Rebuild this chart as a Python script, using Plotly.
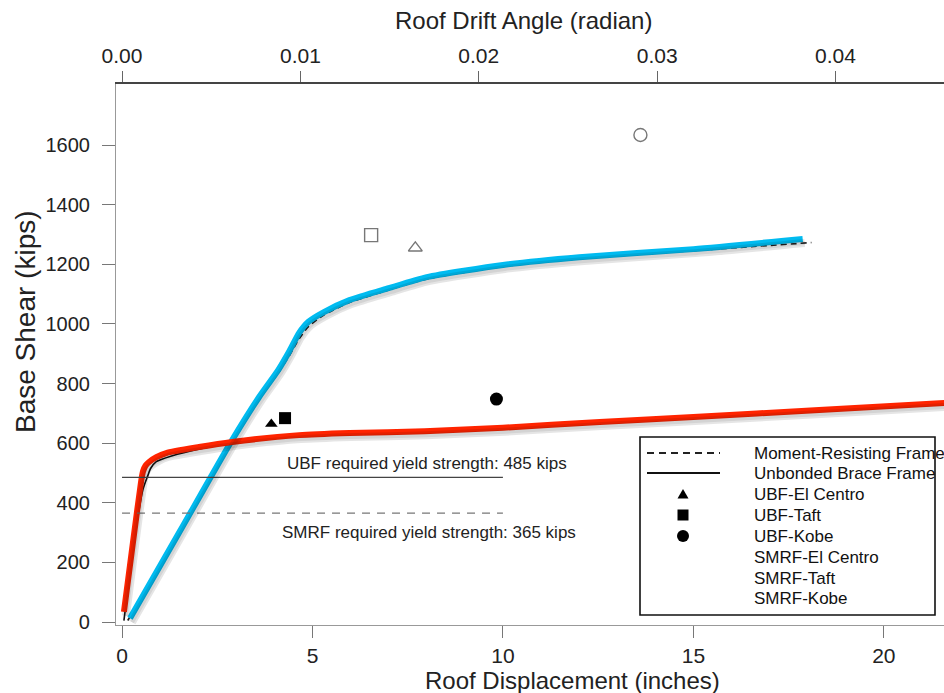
import plotly.graph_objects as go

# ---------------- data ----------------
# Thick highlighted pushover curves
smrf_disp = [0.21, 1.5, 2.86, 3.6, 4.1, 4.4, 4.65, 4.9, 5.3, 5.97, 7.0, 8.0, 10.0, 12.0, 15.0, 17.87]
smrf_shear = [13, 300, 604, 755, 845, 910, 970, 1008, 1040, 1080, 1120, 1157, 1198, 1224, 1251, 1285]

ubf_disp = [0.05, 0.3, 0.5, 0.55, 0.62, 0.71, 0.9, 1.16, 2.02, 2.89, 4.65, 5.97, 7.94, 10.0, 12.54, 15.0, 18.3, 21.6]
ubf_shear = [34, 280, 470, 505, 525, 537, 553, 567, 587, 604, 627, 634, 640, 652, 671, 688, 711, 735]

# Thin black reference curves (legend: Moment-Resisting Frame / Unbonded Brace Frame)
mrf_ref_disp = [0.15, 1.0, 2.86, 3.6, 4.1, 4.4, 4.65, 4.9, 5.3, 5.97, 7.0, 8.0, 10.0, 12.0, 15.0, 18.1]
mrf_ref_shear = [5, 190, 598, 748, 835, 895, 950, 992, 1030, 1072, 1114, 1151, 1193, 1219, 1246, 1273]

ubf_ref_disp = [0.05, 0.3, 0.55, 0.68, 0.75, 0.9, 1.3, 2.0, 2.89, 4.65, 5.97, 10.0, 12.54, 15.0, 18.3, 21.6]
ubf_ref_shear = [5, 255, 445, 492, 515, 538, 557, 580, 600, 624, 630, 650, 667, 684, 707, 730]

# Earthquake peak responses
quake_names = ["El Centro", "Taft", "Kobe"]
ubf_peak_disp = [3.92, 4.28, 9.83]
ubf_peak_shear = [664, 684, 748]
smrf_peak_disp = [7.70, 6.54, 13.61]
smrf_peak_shear = [1255, 1298, 1634]

# Required yield strengths
ubf_required = 485
smrf_required = 365
required_disp_span = [0, 10]

# Axis scales
x_ticks = [0, 5, 10, 15, 20]
y_ticks = [0, 200, 400, 600, 800, 1000, 1200, 1400, 1600]
drift_ticks = [0.00, 0.01, 0.02, 0.03, 0.04]
roof_height_in = 468.3
x_range = [-0.158, 21.58]
y_range = [-10, 1805]

# ---------------- figure ----------------
W, H = 944, 693
ML, MR, MT, MB = 116, 0, 84, 68
plot_w = W - ML - MR
plot_h = H - MT - MB
px_per_in = plot_w / (x_range[1] - x_range[0])
px_per_kip = plot_h / (y_range[1] - y_range[0])
sdx, sdy = 2.0, 4.0  # shadow offset in pixels
x_range_sh = [x_range[0] - sdx / px_per_in, x_range[1] - sdx / px_per_in]
y_range_sh = [y_range[0] + sdy / px_per_kip, y_range[1] + sdy / px_per_kip]

RED = "#FF2400"
BLUE = "#00BBF0"
SANS = "Liberation Sans, Arial, sans-serif"

fig = go.Figure()

# soft shadows for the highlighted curves
for xs, ys in [(smrf_disp, smrf_shear), (ubf_disp, ubf_shear)]:
    fig.add_trace(go.Scatter(x=xs, y=ys, xaxis="x3", yaxis="y3", mode="lines",
                             line=dict(color="rgba(0,0,0,0.10)", width=8, shape="spline", smoothing=0.6),
                             hoverinfo="skip", showlegend=False))
    fig.add_trace(go.Scatter(x=xs, y=ys, xaxis="x3", yaxis="y3", mode="lines",
                             line=dict(color="rgba(0,0,0,0.08)", width=4, shape="spline", smoothing=0.6),
                             hoverinfo="skip", showlegend=False))

# reference black curves
fig.add_trace(go.Scatter(x=mrf_ref_disp, y=mrf_ref_shear, mode="lines", name="Moment-Resisting Frame",
                         line=dict(color="#222", width=1.6, dash="6px,4px", shape="spline", smoothing=0.6),
                         showlegend=False))
fig.add_trace(go.Scatter(x=ubf_ref_disp, y=ubf_ref_shear, mode="lines", name="Unbonded Brace Frame",
                         line=dict(color="#111", width=1.6, shape="spline", smoothing=0.6),
                         showlegend=False))

# highlighted curves
fig.add_trace(go.Scatter(x=smrf_disp, y=smrf_shear, mode="lines", name="SMRF pushover",
                         line=dict(color=BLUE, width=6, shape="spline", smoothing=0.6), showlegend=False))
fig.add_trace(go.Scatter(x=ubf_disp, y=ubf_shear, mode="lines", name="UBF pushover",
                         line=dict(color=RED, width=6, shape="spline", smoothing=0.6), showlegend=False))

# required yield strength lines
fig.add_trace(go.Scatter(x=required_disp_span, y=[ubf_required] * 2, mode="lines",
                         line=dict(color="#444", width=1.3), showlegend=False, hoverinfo="skip"))
fig.add_trace(go.Scatter(x=required_disp_span, y=[smrf_required] * 2, mode="lines",
                         line=dict(color="#777", width=1.3, dash="8px,7px"), showlegend=False, hoverinfo="skip"))

# peak response markers
filled_symbols = ["triangle-up", "square", "circle"]
filled_sizes = [11, 12, 13]
open_symbols = ["triangle-up-open", "square-open", "circle-open"]
open_sizes = [12, 13, 13]
for i, q in enumerate(quake_names):
    fig.add_trace(go.Scatter(x=[ubf_peak_disp[i]], y=[ubf_peak_shear[i]], mode="markers",
                             name="UBF-" + q, showlegend=False,
                             marker=dict(symbol=filled_symbols[i], size=filled_sizes[i], color="black")))
    fig.add_trace(go.Scatter(x=[smrf_peak_disp[i]], y=[smrf_peak_shear[i]], mode="markers",
                             name="SMRF-" + q, showlegend=False,
                             marker=dict(symbol=open_symbols[i], size=open_sizes[i], color="#777",
                                         line=dict(width=1.4, color="#777"))))

# invisible trace on drift axis so it is rendered
fig.add_trace(go.Scatter(x=[d / roof_height_in for d in mrf_ref_disp], y=mrf_ref_shear, xaxis="x2",
                         mode="lines", line=dict(width=0), opacity=0, hoverinfo="skip", showlegend=False))

fig.update_layout(
    width=W, height=H, margin=dict(l=ML, r=MR, t=MT, b=MB),
    paper_bgcolor="white", plot_bgcolor="white", showlegend=False,
    xaxis=dict(range=x_range, tickvals=x_ticks, ticks="outside", ticklen=12, tickcolor="#777",
               showline=True, linecolor="#999", linewidth=1.2, showgrid=False, zeroline=False,
               tickfont=dict(family=SANS, size=21, color="#222"), ticklabelstandoff=0),
    yaxis=dict(range=y_range, tickvals=y_ticks, ticks="outside", ticklen=13, tickcolor="#777",
               showline=True, linecolor="#999", linewidth=1.2, showgrid=False, zeroline=False,
               tickfont=dict(family=SANS, size=20, color="#222"), ticklabelstandoff=8),
    xaxis2=dict(overlaying="x", side="top", range=[x_range[0] / roof_height_in, x_range[1] / roof_height_in],
                tickvals=drift_ticks, tickformat=".2f", ticks="outside", ticklen=11, tickcolor="#666",
                showline=True, linecolor="#444", linewidth=2, showgrid=False, zeroline=False,
                tickfont=dict(family=SANS, size=21, color="#222")),
    xaxis3=dict(overlaying="x", range=x_range_sh, visible=False),
    yaxis3=dict(overlaying="y", range=y_range_sh, visible=False),
)

annotations = [
    dict(text="Roof Drift Angle (radian)", x=(523 - ML) / plot_w, y=(MT + plot_h - 20) / plot_h,
         xref="paper", yref="paper", showarrow=False, xanchor="center", yanchor="middle",
         font=dict(family=SANS, size=24, color="#222")),
    dict(text="Roof Displacement (inches)", x=(572 - ML) / plot_w, y=(MT + plot_h - 680) / plot_h,
         xref="paper", yref="paper", showarrow=False, xanchor="center", yanchor="middle",
         font=dict(family=SANS, size=24, color="#222")),
    dict(text="Base Shear (kips)", x=(25 - ML) / plot_w, y=(MT + plot_h - 322) / plot_h,
         xref="paper", yref="paper", showarrow=False, xanchor="center", yanchor="middle", textangle=-90,
         font=dict(family=SANS, size=28, color="#222")),
    dict(text="UBF required yield strength: %d kips" % ubf_required, x=8.0, y=ubf_required,
         xref="x", yref="y", showarrow=False, xanchor="center", yanchor="middle", yshift=14,
         font=dict(family=SANS, size=17, color="#222")),
    dict(text="SMRF required yield strength: %d kips" % smrf_required, x=8.05, y=smrf_required,
         xref="x", yref="y", showarrow=False, xanchor="center", yanchor="middle", yshift=-19,
         font=dict(family=SANS, size=17, color="#222")),
]

# ---- manual legend ----
def px(xp):
    return (xp - ML) / plot_w

def py(yp):
    return (MT + plot_h - yp) / plot_h

legend_labels = ["Moment-Resisting Frame", "Unbonded Brace Frame"] + \
    ["UBF-" + q for q in quake_names] + ["SMRF-" + q for q in quake_names]
row_y = [453, 473, 494, 515, 536, 557, 578, 598]
for lab, yy in zip(legend_labels, row_y):
    annotations.append(dict(text=lab, x=px(752), y=py(yy), xref="paper", yref="paper", showarrow=False,
                            xanchor="left", yanchor="middle", font=dict(family=SANS, size=17, color="#111")))

shapes = [
    dict(type="rect", xref="paper", yref="paper", x0=px(640), x1=px(935), y0=py(615), y1=py(437),
         line=dict(color="#111", width=1.6), fillcolor="rgba(0,0,0,0)"),
    dict(type="line", xref="paper", yref="paper", x0=px(647), x1=px(720), y0=py(453), y1=py(453),
         line=dict(color="#222", width=1.8, dash="7px,5px")),
    dict(type="line", xref="paper", yref="paper", x0=px(647), x1=px(720), y0=py(473), y1=py(473),
         line=dict(color="#111", width=1.8)),
    dict(type="path", xref="paper", yref="paper", xsizemode="pixel", ysizemode="pixel",
         xanchor=px(683), yanchor=py(494), path="M -5.5 -4.5 L 5.5 -4.5 L 0 5 Z",
         fillcolor="black", line=dict(width=0)),
    dict(type="rect", xref="paper", yref="paper", xsizemode="pixel", ysizemode="pixel",
         xanchor=px(683), yanchor=py(515), x0=-5.5, x1=5.5, y0=-5.5, y1=5.5,
         fillcolor="black", line=dict(width=0)),
    dict(type="circle", xref="paper", yref="paper", xsizemode="pixel", ysizemode="pixel",
         xanchor=px(683), yanchor=py(536), x0=-6, x1=6, y0=-6, y1=6,
         fillcolor="black", line=dict(width=0)),
]

fig.update_layout(annotations=annotations, shapes=shapes)
fig.write_html("out.html", config={"displayModeBar": False},
               post_script="document.body.style.margin='0';document.body.style.overflow='hidden';")
